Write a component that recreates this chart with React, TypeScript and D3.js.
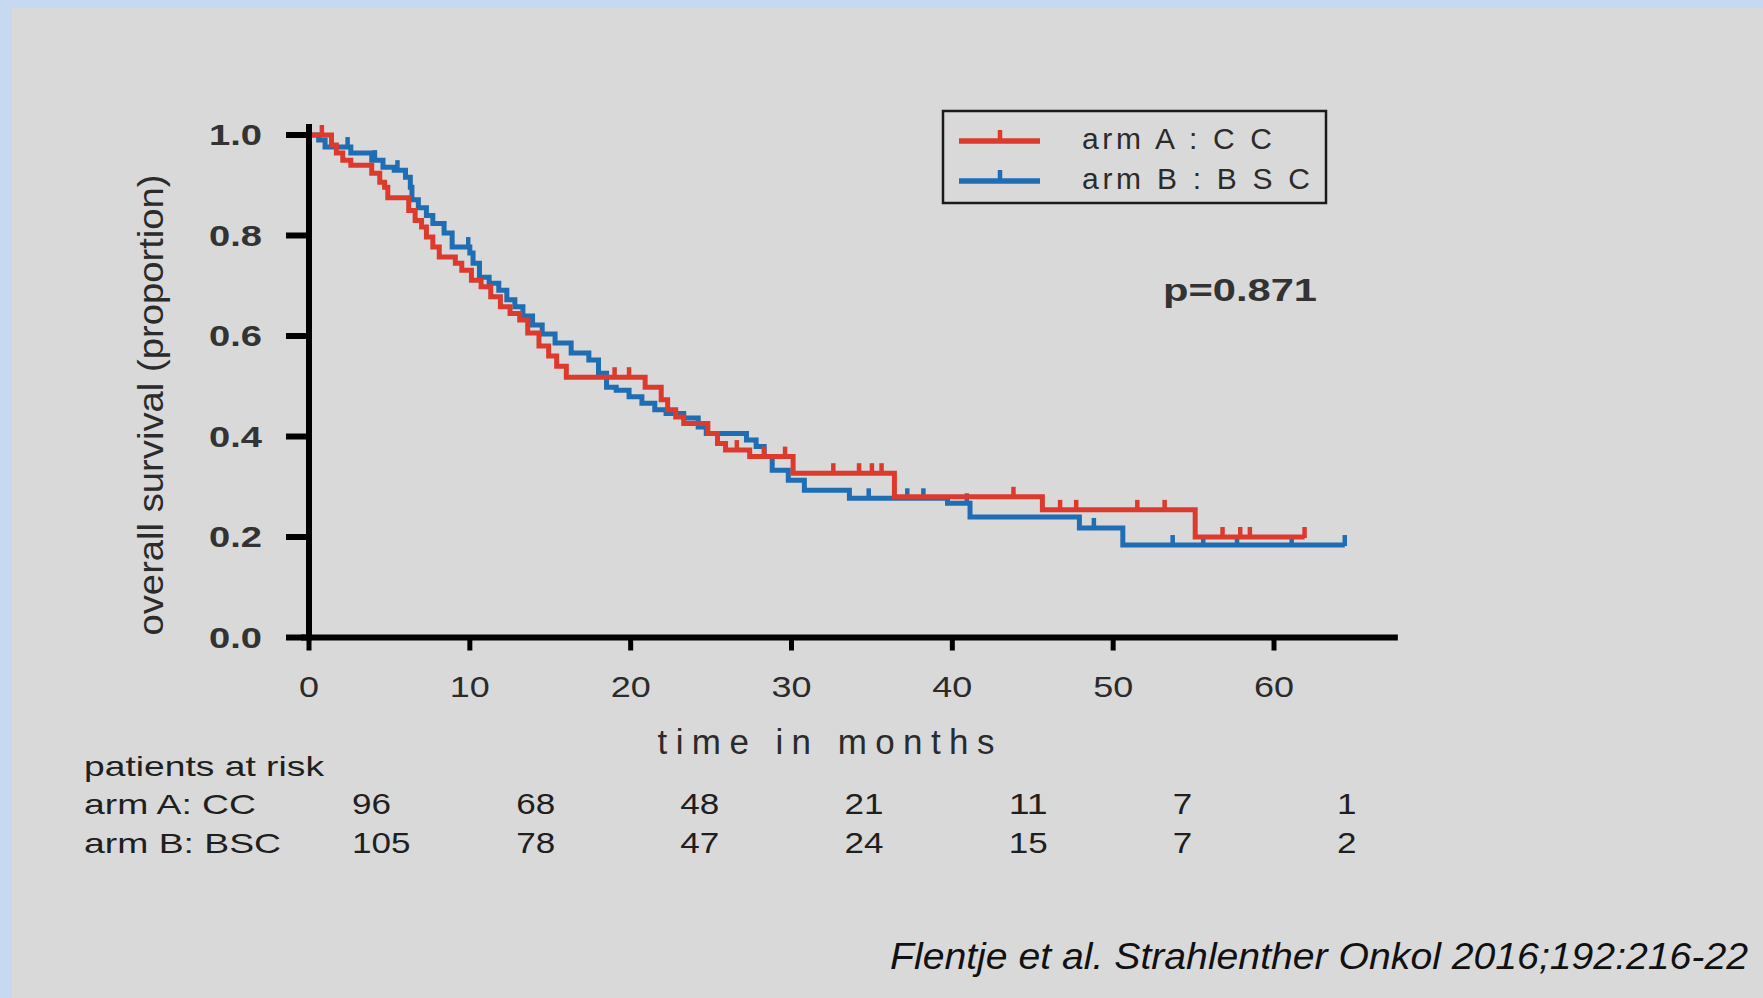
import React from 'react';
import * as d3 from 'd3';

const W = 1763;
const H = 998;

// ---- data ----
const armAEvents: [number, number][] = [
  [0, 1], [1.4, 0.98], [1.7, 0.964], [2.1, 0.95], [2.6, 0.94], [3.9, 0.924], [4.4, 0.906],
  [4.7, 0.896], [4.9, 0.875], [6.2, 0.85], [6.6, 0.83], [7.0, 0.817], [7.3, 0.797], [7.7, 0.777],
  [8.1, 0.757], [9.1, 0.745], [9.5, 0.731], [10.1, 0.711], [10.7, 0.698], [11.3, 0.678],
  [11.9, 0.658], [12.5, 0.645], [13.1, 0.632], [13.6, 0.606], [14.3, 0.58], [14.9, 0.56],
  [15.4, 0.54], [16.0, 0.518], [20.9, 0.498], [21.9, 0.473], [22.3, 0.453], [22.8, 0.439],
  [23.3, 0.426], [24.8, 0.406], [25.4, 0.386], [25.9, 0.373], [27.4, 0.36], [30.1, 0.327],
  [36.4, 0.28], [45.6, 0.254], [55.1, 0.2],
];
const armACensored = [0.8, 19.0, 19.9, 26.6, 28.3, 29.6, 32.6, 34.2, 35.0, 35.6, 43.8, 46.7, 47.7,
  51.5, 53.2, 56.8, 57.9, 58.5, 61.9];
const armAEnd = 61.9;

const armBEvents: [number, number][] = [
  [0, 1], [0.6, 0.99], [1.0, 0.976], [2.6, 0.964], [3.9, 0.95], [4.6, 0.936], [5.3, 0.93],
  [6.0, 0.916], [6.3, 0.896], [6.4, 0.871], [6.8, 0.855], [7.3, 0.84], [7.7, 0.824], [8.4, 0.805],
  [8.9, 0.777], [10.0, 0.765], [10.2, 0.745], [10.6, 0.717], [11.2, 0.705], [11.8, 0.691],
  [12.3, 0.672], [12.8, 0.658], [13.3, 0.64], [13.9, 0.622], [14.5, 0.604], [15.3, 0.586],
  [16.3, 0.566], [17.4, 0.552], [18.0, 0.526], [18.5, 0.498], [19.1, 0.492], [19.9, 0.479],
  [20.7, 0.466], [21.5, 0.453], [22.2, 0.446], [23.3, 0.437], [24.2, 0.419], [24.7, 0.406],
  [27.2, 0.393], [27.8, 0.38], [28.3, 0.36], [28.8, 0.333], [29.8, 0.313], [30.8, 0.293],
  [33.6, 0.277], [39.7, 0.267], [41.1, 0.24], [47.9, 0.218], [50.6, 0.184],
];
const armBCensored = [2.4, 4.1, 5.5, 9.9, 34.8, 37.2, 38.2, 40.9, 48.8, 53.7, 55.6, 57.7, 61.1, 64.4];
const armBEnd = 64.4;

const xTicks = [0, 10, 20, 30, 40, 50, 60];
const yTicks = [0, 0.2, 0.4, 0.6, 0.8, 1.0];
const seriesNames = ['arm A : C C', 'arm B : B S C'];
const seriesColors = ['#dd3a2e', '#1f6db2'];
const riskTimes = [0, 10, 20, 30, 40, 50, 60];
const riskA = [96, 68, 48, 21, 11, 7, 1];
const riskB = [105, 78, 47, 24, 15, 7, 2];
const riskRowLabels = ['arm A: CC', 'arm B: BSC'];
const riskTitle = 'patients at risk';
const xTitle = 'time in months';
const yTitle = 'overall survival (proportion)';
const pValue = 'p=0.871';
const citation = 'Flentje et al. Strahlenther Onkol 2016;192:216-22';

// ---- layout ----
const x = d3.scaleLinear().domain([0, 60]).range([309, 1274]);
const y = d3.scaleLinear().domain([0, 1]).range([637.5, 135]);
const riskX = d3.scaleLinear().domain([0, 60]).range([352, 1337]);

const FONT = '"Liberation Sans", Arial, sans-serif';

function survAt(events: [number, number][], t: number) {
  let s = 1;
  for (const [et, es] of events) if (et <= t) s = es;
  return s;
}

function KM({ events, censored, end, color }: { events: [number, number][]; censored: number[]; end: number; color: string }) {
  const pts: [number, number][] = [...events, [end, events[events.length - 1][1]]];
  const line = d3.line<[number, number]>()
    .x(d => x(d[0]))
    .y(d => y(d[1]))
    .curve(d3.curveStepAfter);
  return (
    <g>
      <path d={line(pts) || ''} fill="none" stroke={color} strokeWidth={5} strokeLinejoin="miter" />
      {censored.map((t, i) => {
        const s = survAt(events, t);
        return <line key={i} x1={x(t)} x2={x(t)} y1={y(s) + 1} y2={y(s) - 10} stroke={color} strokeWidth={4.5} />;
      })}
    </g>
  );
}

export default function App() {
  return (
    <svg width={W} height={H} style={{ position: 'absolute', left: 0, top: 0 }} fontFamily={FONT}>
      <rect x={0} y={0} width={W} height={H} fill="#c6d9f0" />
      <rect x={12} y={8} width={W - 12} height={H - 8} fill="#d9d9da" />

      {/* curves */}
      <KM events={armBEvents} censored={armBCensored} end={armBEnd} color={seriesColors[1]} />
      <KM events={armAEvents} censored={armACensored} end={armAEnd} color={seriesColors[0]} />

      {/* axes */}
      <line x1={x(0)} x2={x(0)} y1={y(0) + 3} y2={y(1.022)} stroke="#000" strokeWidth={6} />
      <line x1={x(-0.5)} x2={x(67.7)} y1={y(0)} y2={y(0)} stroke="#000" strokeWidth={6} />
      {yTicks.map(v => (
        <g key={v}>
          <line x1={x(0) - 23} x2={x(0)} y1={y(v)} y2={y(v)} stroke="#000" strokeWidth={6} />
          <text x={262} y={y(v)} textAnchor="end" dominantBaseline="central" fontSize={29} fontWeight={700}
            fill="#333" textLength={53} lengthAdjust="spacingAndGlyphs">{d3.format('.1f')(v)}</text>
        </g>
      ))}
      {xTicks.map(v => (
        <g key={v}>
          <line x1={x(v)} x2={x(v)} y1={y(0)} y2={y(0) + 13} stroke="#000" strokeWidth={5} />
          <text x={x(v)} y={y(0) + 49} textAnchor="middle" dominantBaseline="central" fontSize={30}
            fill="#2b2b2b" textLength={String(v).length * 20} lengthAdjust="spacingAndGlyphs">{v}</text>
        </g>
      ))}
      <text x={826} y={741} textAnchor="middle" dominantBaseline="central" fontSize={35} fill="#2b2b2b"
        textLength={337} lengthAdjust="spacing">{xTitle}</text>
      <text transform={`translate(150,405) rotate(-90)`} textAnchor="middle" dominantBaseline="central"
        fontSize={35} fill="#2b2b2b" textLength={461} lengthAdjust="spacingAndGlyphs">{yTitle}</text>

      {/* legend */}
      <rect x={943} y={111} width={383} height={92} fill="none" stroke="#1a1a1a" strokeWidth={2.5} />
      {seriesNames.map((name, i) => {
        const ly = 141 + i * 40;
        return (
          <g key={name}>
            <line x1={959} x2={1040} y1={ly} y2={ly} stroke={seriesColors[i]} strokeWidth={5.5} />
            <line x1={1000} x2={1000} y1={ly} y2={ly - 11} stroke={seriesColors[i]} strokeWidth={4.5} />
            <text x={1082} y={ly - 3} dominantBaseline="central" fontSize={30} fill="#2b2b2b"
              textLength={i === 0 ? 190 : 228} lengthAdjust="spacing">{name}</text>
          </g>
        );
      })}
      <text x={1317} y={290} textAnchor="end" dominantBaseline="central" fontSize={31} fontWeight={700}
        fill="#333" textLength={154} lengthAdjust="spacingAndGlyphs">{pValue}</text>

      {/* risk table */}
      <text x={84} y={766} dominantBaseline="central" fontSize={28} fill="#1f1f1f" textLength={240}
        lengthAdjust="spacingAndGlyphs">{riskTitle}</text>
      {[riskA, riskB].map((row, r) => (
        <g key={r}>
          <text x={84} y={804 + r * 39} dominantBaseline="central" fontSize={28} fill="#1f1f1f"
            textLength={r === 0 ? 172 : 197} lengthAdjust="spacingAndGlyphs">{riskRowLabels[r]}</text>
          {row.map((n, i) => (
            <text key={i} x={riskX(riskTimes[i])} y={804 + r * 39} dominantBaseline="central" fontSize={29}
              fill="#1f1f1f" textLength={String(n).length * 19.5} lengthAdjust="spacingAndGlyphs">{n}</text>
          ))}
        </g>
      ))}

      {/* citation */}
      <text x={1748} y={956} textAnchor="end" dominantBaseline="central" fontSize={36} fontStyle="italic"
        fill="#111" textLength={858} lengthAdjust="spacingAndGlyphs">{citation}</text>
    </svg>
  );
}
